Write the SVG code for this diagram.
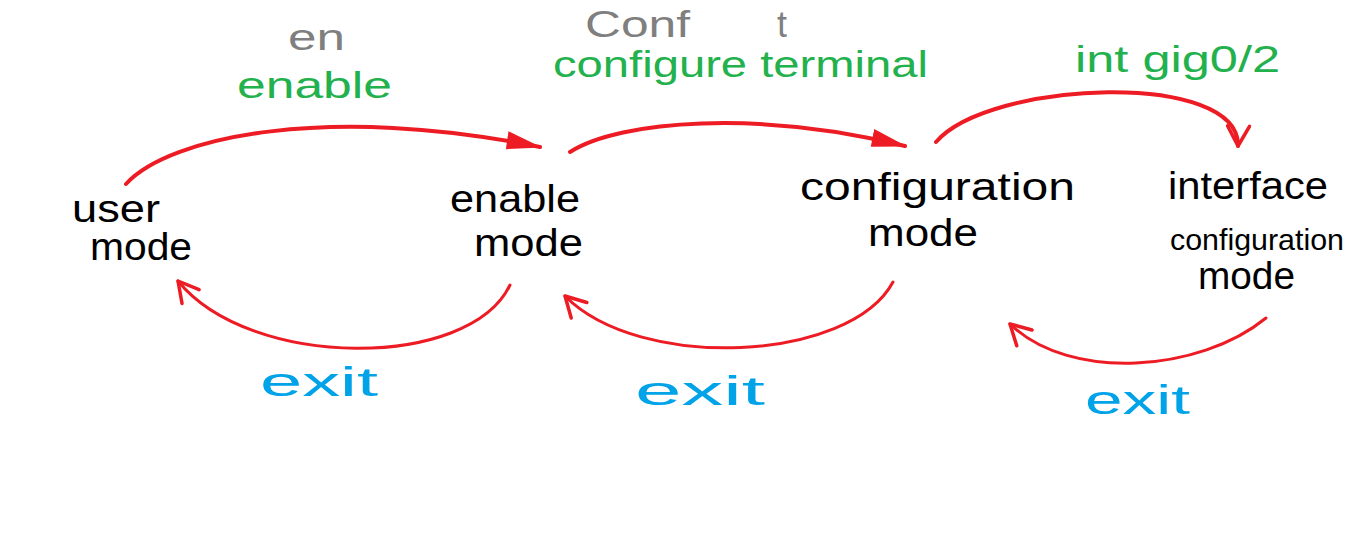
<svg xmlns="http://www.w3.org/2000/svg" width="1356" height="560" viewBox="0 0 1356 560">
<style>
text{font-family:"Liberation Sans","DejaVu Sans",Arial,sans-serif;}
.node{fill:#000;font-size:38px;}
.cmd{fill:#22b14c;font-size:36px;}
.abbr{fill:#7f7f7f;font-size:36px;}
.exit{fill:#00a2e8;font-size:40px;}
.edge{fill:none;stroke:#ed1c24;stroke-linecap:round;stroke-linejoin:round;}
.fwd{stroke-width:4;marker-end:url(#arrowFilled);}
.back{stroke-width:3;marker-end:url(#arrowOpen);}
</style>
<defs>
<marker id="arrowFilled" viewBox="0 0 36 20" refX="34" refY="10" markerWidth="36" markerHeight="20" orient="auto" markerUnits="userSpaceOnUse">
<path d="M0,1 L36,10 L1,19 Z" fill="#ed1c24"/>
</marker>
<marker id="arrowOpen" viewBox="0 0 26 26" refX="23" refY="13" markerWidth="26" markerHeight="26" orient="auto" markerUnits="userSpaceOnUse">
<path d="M3,2 L23,13 L3,24" fill="none" stroke="#ed1c24" stroke-width="3.5" stroke-linecap="round" stroke-linejoin="round"/>
</marker>
</defs>
<rect width="1356" height="560" fill="#fff"/>
<g id="connectors">
<path id="e-user-enable" class="edge fwd" d="M126,184 C170,136 330,104 540,147"/>
<path id="e-enable-config" class="edge fwd" d="M570,152 C620,120 760,110 905,146"/>
<path id="e-config-interface" class="edge fwd" style="marker-end:url(#arrowOpen)" d="M936,142 C990,80 1240,70 1238,146"/>
<path id="e-enable-user" class="edge back" d="M510,285 C470,370 250,370 178,281"/>
<path id="e-config-enable" class="edge back" d="M893,282 C850,362 640,372 565,296"/>
<path id="e-interface-config" class="edge back" d="M1266,318 C1200,372 1070,382 1010,324"/>
</g>
<g id="edge-labels">
<text class="abbr" x="288" y="50" textLength="57" lengthAdjust="spacingAndGlyphs">en</text>
<text class="cmd" x="237" y="98" textLength="155" lengthAdjust="spacingAndGlyphs">enable</text>
<text class="abbr" x="585" y="37"><tspan x="585" textLength="105" lengthAdjust="spacingAndGlyphs">Conf</tspan> <tspan x="777">t</tspan></text>
<text class="cmd" x="553" y="77" textLength="375" lengthAdjust="spacingAndGlyphs">configure terminal</text>
<text class="cmd" x="1075" y="72" textLength="205" lengthAdjust="spacingAndGlyphs">int gig0/2</text>
<text class="exit" x="260" y="396" textLength="118" lengthAdjust="spacingAndGlyphs">exit</text>
<text class="exit" x="635" y="405" textLength="130" lengthAdjust="spacingAndGlyphs">exit</text>
<text class="exit" x="1085" y="414" textLength="105" lengthAdjust="spacingAndGlyphs">exit</text>
</g>
<g id="user-mode">
<text class="node" x="72" y="222" textLength="88" lengthAdjust="spacingAndGlyphs">user</text>
<text class="node" x="90" y="260" textLength="102" lengthAdjust="spacingAndGlyphs">mode</text>
</g>
<g id="enable-mode">
<text class="node" x="450" y="212" textLength="130" lengthAdjust="spacingAndGlyphs">enable</text>
<text class="node" x="474" y="256" textLength="109" lengthAdjust="spacingAndGlyphs">mode</text>
</g>
<g id="configuration-mode">
<text class="node" x="800" y="200" textLength="275" lengthAdjust="spacingAndGlyphs">configuration</text>
<text class="node" x="868" y="246" textLength="110" lengthAdjust="spacingAndGlyphs">mode</text>
</g>
<g id="interface-configuration-mode">
<text class="node" x="1168" y="199" textLength="160" lengthAdjust="spacingAndGlyphs">interface</text>
<text class="node" x="1170" y="250" style="font-size:30px" textLength="174" lengthAdjust="spacingAndGlyphs">configuration</text>
<text class="node" x="1198" y="289" textLength="97" lengthAdjust="spacingAndGlyphs">mode</text>
</g>
</svg>
